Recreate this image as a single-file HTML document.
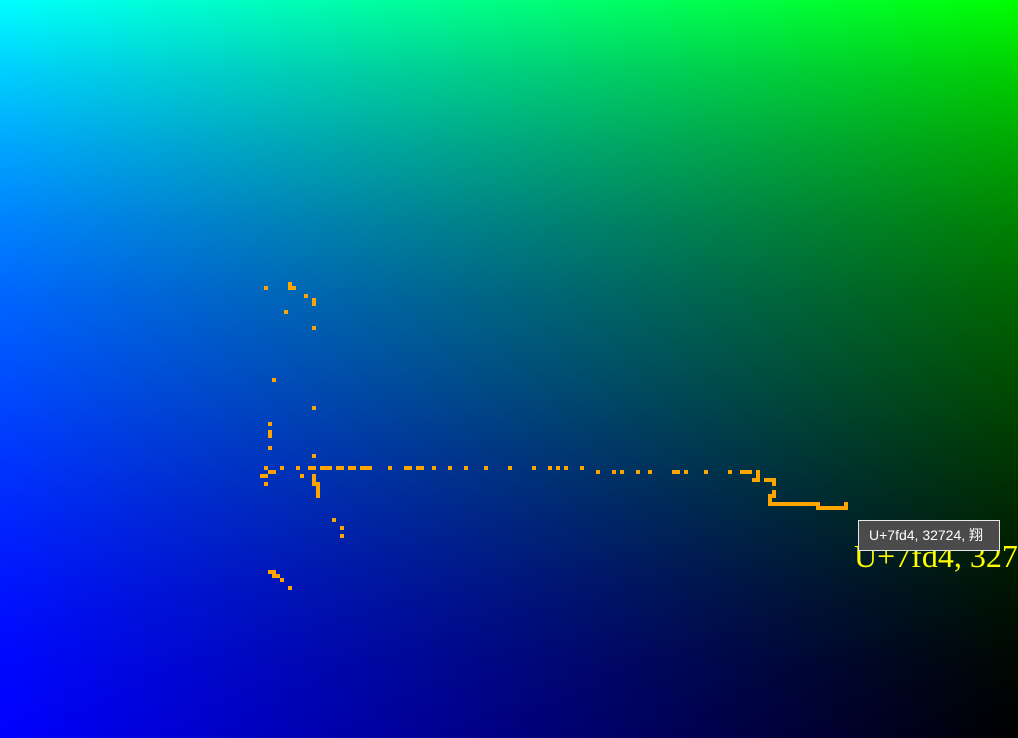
<!DOCTYPE html>
<html><head><meta charset="utf-8"><style>
html,body{margin:0;padding:0;}
body{width:1018px;height:738px;overflow:hidden;position:relative;background:#000;}
#bg-blue{position:absolute;left:0;top:0;width:1018px;height:738px;background:linear-gradient(to right,#0000ff,#000000);}
#bg-green{position:absolute;left:0;top:0;width:1018px;height:738px;background:linear-gradient(to bottom,rgb(0,255,0) 0%,rgb(0,205,0) 10%,rgb(0,165,0) 20%,rgb(0,130,0) 30%,rgb(0,102,0) 40%,rgb(0,80,0) 50%,rgb(0,58,0) 60%,rgb(0,38,0) 70%,rgb(0,20,0) 80%,rgb(0,7,0) 90%,rgb(0,0,0) 100%);mix-blend-mode:screen;}
#plot{position:absolute;left:0;top:0;}
#big-label{position:absolute;left:854px;top:536px;font-family:"Liberation Serif","Noto Serif CJK SC",serif;font-size:32px;color:#ffff00;white-space:nowrap;line-height:40px;}
#tooltip{position:absolute;left:858px;top:520px;width:138px;height:29px;background:#4b4b4b;border:1px solid #e8e8e8;color:#fff;font-family:"Liberation Sans","Noto Sans CJK SC",sans-serif;font-size:14px;line-height:29px;padding-left:2px;box-sizing:content-box;white-space:nowrap;}
#tooltip span{margin-left:8px;}
</style></head><body>
<div id="bg-blue"></div>
<div id="bg-green"></div>
<svg id="plot" width="1018" height="738"></svg>
<div id="big-label">U+7fd4, 32724</div>
<div id="tooltip"><span>U+7fd4, 32724, 翔</span></div>
<script>
const cols = [66,72,72,73,76,78,78,71,78,68,78,67,67,67,67,78,
66,70,74,77,78,80,81,82,84,85,87,88,90,91,92,97,101,102,104,105,108,112,116,121,127,133,137,139,141,145,
67,68,149,153,155,159,162,168,169,171,176,182,185,186,187,189,
65,66,75,78,189,
78,188,189,191,192,193,
66,78,79,193,
79,79,193,79,192,193,192,
192,193,194,195,196,197,198,199,200,201,202,203,204,211,
204,205,206,207,208,209,210,211,
83,85,85,67,68,68,69,70,72];
const rows = [71,70,71,71,73,74,75,77,81,94,101,105,107,108,111,113,
116,116,116,116,116,116,116,116,116,116,116,116,116,116,116,116,116,116,116,116,116,116,116,116,116,116,116,116,116,116,
117,117,117,117,117,117,117,117,117,117,117,117,117,117,117,117,
118,118,118,118,118,
119,119,119,119,119,119,
120,120,120,120,
121,122,122,123,123,123,124,
125,125,125,125,125,125,125,125,125,125,125,125,125,125,
126,126,126,126,126,126,126,126,
129,131,133,142,142,143,143,144,146];
const CELL = 4, OFFY = 2;
function xScale(c){return c*CELL;}
function yScale(r){return r*CELL+OFFY;}
const svg = document.getElementById('plot');
for(let i=0;i<cols.length;i++){
  const el=document.createElementNS('http://www.w3.org/2000/svg','rect');
  el.setAttribute('x',xScale(cols[i]));
  el.setAttribute('y',yScale(rows[i]));
  el.setAttribute('width',CELL);
  el.setAttribute('height',CELL);
  el.setAttribute('fill','#ffa500');
  
  
  svg.appendChild(el);
}
</script>
</body></html>
